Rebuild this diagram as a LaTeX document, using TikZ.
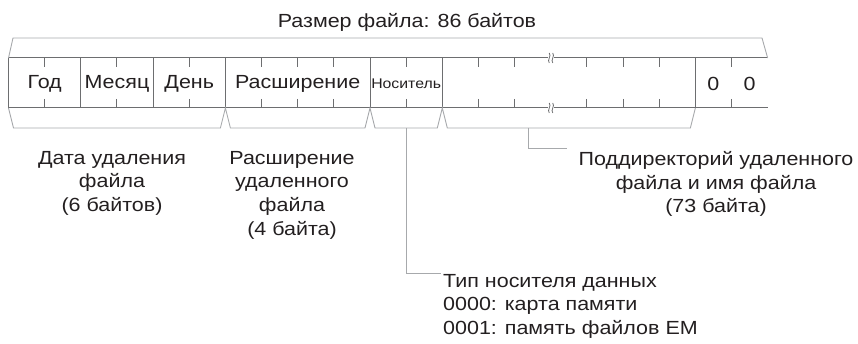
\documentclass[tikz,border=0pt]{standalone}
\usepackage{fontspec}
\setmainfont[FakeStretch=1.13]{Liberation Sans}
\definecolor{txt}{HTML}{231F20}
\definecolor{bandgray}{HTML}{6D6E70}
\definecolor{brgray}{HTML}{A7A9AC}
\begin{document}
\begin{tikzpicture}[x=1pt,y=-1pt,
  bandline/.style={draw=bandgray, line width=1pt},
  tickline/.style={draw=bandgray, line width=1pt},
  brline/.style={draw=brgray, line width=0.9pt},
  leader/.style={draw=brgray, line width=0.9pt},
  lbl/.style={font=\fontsize{19}{23.7}\selectfont, text=txt, inner sep=0pt, align=center},
  cell/.style={font=\fontsize{19}{22}\selectfont, text=txt, inner sep=0pt},
  smallcell/.style={font=\fontsize{14}{16}\selectfont, text=txt, inner sep=0pt},
  squig/.style={draw=bandgray, line width=0.8pt},
]
\useasboundingbox (0,0) rectangle (858,344);
\def\xo{8.5}\def\bw{36.15}
% band
\draw[bandline] (\xo,58) -- ({\xo+21*\bw},58);
\draw[bandline] (\xo,108) -- ({\xo+21*\bw},108);
\foreach \n in {0,2,4,6,10,12,19}
  \draw[bandline] ({\xo+\n*\bw},58) -- ({\xo+\n*\bw},108);
\foreach \n in {1,3,5,7,8,9,11,13,14,16,17,18,20}{
  \draw[tickline] ({\xo+\n*\bw},58) -- ({\xo+\n*\bw},67);
  \draw[tickline] ({\xo+\n*\bw},99) -- ({\xo+\n*\bw},108);
}
% break marks
\foreach \yy in {58,108}{
  \fill[white] ({\xo+15*\bw-3},{\yy-1}) rectangle ({\xo+15*\bw+3},{\yy+1});
  \draw[squig] ({\xo+15*\bw-1.5},{\yy-5}) .. controls ({\xo+15*\bw+1},{\yy-2}) and ({\xo+15*\bw-4},{\yy+2}) .. ({\xo+15*\bw-1.5},{\yy+5});
  \draw[squig] ({\xo+15*\bw+2},{\yy-5}) .. controls ({\xo+15*\bw+4.5},{\yy-2}) and ({\xo+15*\bw-0.5},{\yy+2}) .. ({\xo+15*\bw+2},{\yy+5});
}
% cell texts
\node[cell] (god) at ({\xo+1*\bw},83.5) {Год};
\node[cell] (mes) at ({\xo+3*\bw},83.5) {Месяц};
\node[cell] (den) at ({\xo+5*\bw},83.5) {День};
\node[cell] (ras) at ({\xo+8*\bw},83.5) {Расширение};
\node[smallcell] (nos) at ({\xo+11*\bw},84) {Носитель};
\node[cell] (z1) at ({\xo+19.5*\bw},83.5) {0};
\node[cell] (z2) at ({\xo+20.5*\bw},83.5) {0};
% top bracket
\draw[brline] (\xo,58) -- (13,38) -- (762,38) -- ({\xo+21*\bw},58);
\node[lbl, anchor=base] (size) at (407,28) {Размер файла: 86 байтов};
% bottom brackets
\draw[brline] (\xo,108) -- ({\xo+5},128) -- ({\xo+6*\bw-5},128) -- ({\xo+6*\bw},108)
  -- ({\xo+6*\bw+5},128) -- ({\xo+10*\bw-5},128) -- ({\xo+10*\bw},108)
  -- ({\xo+10*\bw+5},128) -- ({\xo+12*\bw-5},128) -- ({\xo+12*\bw},108)
  -- ({\xo+12*\bw+5},128) -- ({\xo+19*\bw-5},128) -- ({\xo+19*\bw},108);
% labels
\node[lbl, anchor=north] (date) at (112,151) {Дата удаления\\файла\\(6 байтов)};
\node[lbl, anchor=north] (ext) at (292,151) {Расширение\\удаленного\\файла\\(4 байта)};
\node[lbl, anchor=north] (dir) at (716,151) {Поддиректорий удаленного\\файла и имя файла\\(73 байта)};
\node[lbl, anchor=north west, align=left] (med) at (443,274) {Тип носителя данных\\0000: карта памяти\\0001: память файлов EM};
% leaders
\coordinate (dirB) at (528,128);
\coordinate (dirE) at (567,148);
\coordinate (medB) at ({\xo+11*\bw},128);
\coordinate (medE) at (441,273);
\draw[leader] (dirB) |- (dirE);
\draw[leader] (medB) |- (medE);
\end{tikzpicture}
\end{document}
